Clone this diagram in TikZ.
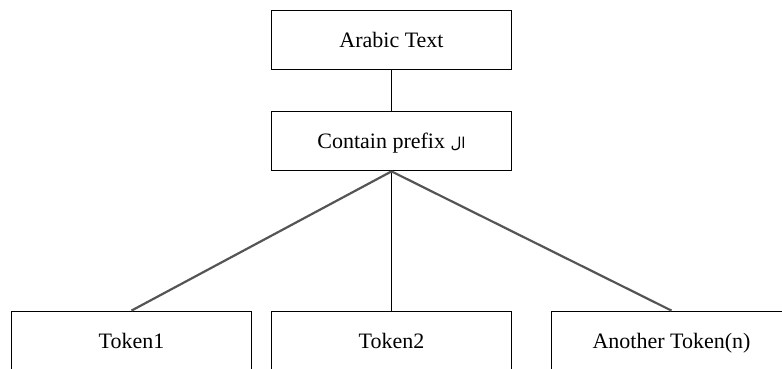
\documentclass[tikz,border=0pt]{standalone}
\usepackage{fontspec}
\setmainfont{Liberation Serif}
\newfontfamily\arabicfont[Script=Arabic]{DejaVu Sans}
\TeXXeTstate=1
\usepackage{tikz}
\usetikzlibrary{arrows,shapes}
\definecolor{linkgray}{RGB}{85,85,85}
\tikzstyle{box}=[rectangle,draw=black,line width=1.8pt,minimum width=240pt,minimum height=59pt,inner sep=0pt,text height=17pt,text depth=2pt,font=\fontsize{22}{26}\selectfont]
\tikzstyle{link} = [draw,line width=1.8pt,-]
\tikzstyle{branch} = [draw=linkgray,line width=2.2pt,-]

\begin{document}
\begin{tikzpicture}[x=1pt,y=-1pt]
    \useasboundingbox (0,0) rectangle (782,369);
    \clip (0,0) rectangle (782,369);
    % Top of the tree
    \node[box] (text) at (391.5,40) {Arabic Text};
    \node[box] (prefix) at (391.5,141) {Contain prefix {\arabicfont\fontsize{15}{18}\selectfont\beginR ال\endR}};

    % The tokens, cut off at the bottom
    \foreach \pos/\name/\label in {{(131.5,341)/tok1/Token1},{(391.5,341)/tok2/Token2},{(671.5,341)/tokn/Another Token(n)}}
        \node[box] (\name) at \pos {\label};

    % Connect the boxes
    \path[link] (text) -- (prefix);
    \path[link] (prefix.south) -- (tok2.north);
    \foreach \dest in {tok1,tokn}
        \path[branch] (prefix.south) -- (\dest.north);
\end{tikzpicture}
\end{document}
